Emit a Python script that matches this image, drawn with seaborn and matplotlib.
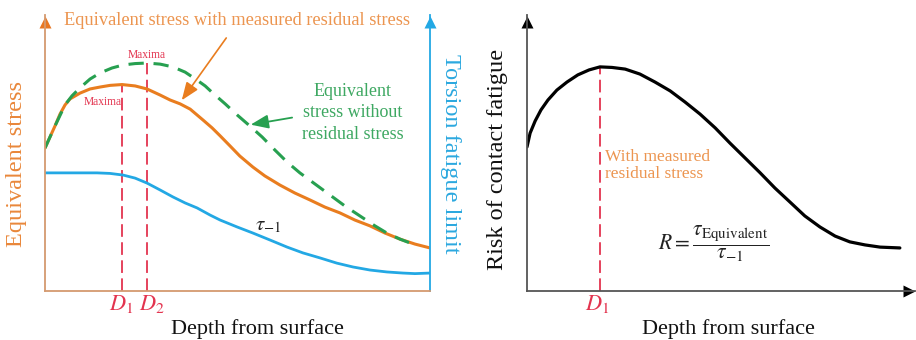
import matplotlib
matplotlib.use("Agg")
import matplotlib.pyplot as plt
import seaborn as sns
import pandas as pd
import numpy as np

# ---- data (depth in arbitrary units 0-10, stress / risk in arbitrary units 0-100) ----
depth_meas = [0.00, 0.13, 0.26, 0.39, 0.52, 0.65, 0.91, 1.17, 1.43, 1.69, 2.00, 2.34,
              2.65, 2.99, 3.25, 3.51, 3.77, 4.10, 4.34, 4.55, 4.81, 5.06, 5.40, 5.71,
              6.10, 6.49, 6.88, 7.27, 7.66, 8.05, 8.44, 8.83, 9.22, 9.61, 10.0]
stress_meas = [51.8, 55.8, 59.8, 64.1, 67.4, 69.6, 71.7, 73.2, 73.9, 74.5, 74.8, 74.3,
               73.2, 71.0, 69.2, 67.8, 65.9, 62.0, 59.1, 56.2, 52.5, 48.9, 44.9, 41.7,
               38.4, 35.5, 33.0, 30.4, 28.3, 25.7, 23.6, 21.0, 18.8, 17.0, 15.6]

depth_nores = [0.00, 0.26, 0.52, 0.70, 0.91, 1.17, 1.43, 1.74, 2.03, 2.34, 2.65, 2.99,
               3.32, 3.64, 3.95, 4.16, 4.36, 4.68, 4.99, 5.32, 5.64, 5.97, 6.29, 6.62,
               7.01, 7.40, 7.79, 8.18, 8.57, 8.88, 9.22, 9.48]
stress_nores = [51.8, 59.8, 67.4, 70.7, 73.6, 76.8, 79.0, 80.8, 81.9, 82.4, 82.6, 82.2,
                81.2, 79.3, 76.4, 74.3, 71.7, 67.8, 63.8, 59.8, 55.8, 51.1, 46.7, 42.8,
                38.8, 34.8, 30.8, 27.2, 23.6, 21.0, 18.8, 17.4]

depth_tau = [0.00, 0.65, 1.35, 1.69, 2.03, 2.34, 2.65, 2.99, 3.32, 3.64, 3.95, 4.29,
             4.55, 4.99, 5.40, 5.84, 6.29, 6.70, 7.14, 7.58, 8.00, 8.44, 8.88, 9.30,
             9.61, 10.0]
tau_limit = [42.8, 42.8, 42.8, 42.6, 42.0, 40.9, 39.1, 36.6, 34.1, 31.9, 30.1, 27.5,
             25.7, 23.2, 21.0, 18.5, 15.9, 13.8, 12.0, 10.1, 8.7, 7.6, 6.9, 6.5,
             6.3, 6.5]

depth_risk = [0.00, 0.08, 0.21, 0.36, 0.54, 0.77, 1.03, 1.31, 1.60, 1.88, 2.19, 2.53,
              2.91, 3.30, 3.69, 4.07, 4.46, 4.85, 5.23, 5.62, 6.01, 6.39, 6.78, 7.16,
              7.55, 7.94, 8.32, 8.71, 9.10, 9.61]
risk = [52.2, 57.2, 61.6, 65.6, 69.2, 72.8, 75.7, 78.3, 80.1, 81.2, 81.0, 80.4,
        78.6, 75.7, 72.5, 68.5, 64.1, 59.1, 53.6, 48.2, 42.8, 37.3, 32.2, 27.2,
        23.2, 19.9, 17.8, 16.7, 15.9, 15.6]

depth_labels = ["$D_1$", "$D_2$"]
xlabel_text = "Depth from surface"

# ---- colours ----
C_ORANGE = "#E97D1F"
C_ORANGE_TXT = "#EC9550"
C_ORANGE_AX = "#D49A70"
C_GREEN = "#27A050"
C_GREEN_TXT = "#3EA862"
C_BLUE = "#23A8E4"
C_RED = "#E3344F"
C_BLACK = "#000000"

sns.set_theme(style="white")
plt.rcParams["font.family"] = ["Liberation Serif", "DejaVu Serif"]
plt.rcParams["mathtext.fontset"] = "stix"
plt.rcParams["lines.solid_joinstyle"] = "round"
plt.rcParams["lines.solid_capstyle"] = "round"

W, H = 916, 340
fig = plt.figure(figsize=(W / 100, H / 100), dpi=100)
fig.patch.set_facecolor("white")

axL = fig.add_axes([45 / W, 49 / H, 385 / W, 276 / H])
axR = fig.add_axes([527 / W, 49 / H, 388 / W, 276 / H])

for ax in (axL, axR):
    ax.set_xlim(0, 10)
    ax.set_ylim(0, 100)
    ax.set_facecolor("white")
    ax.grid(False)

# ---- left panel: equivalent stress and torsion fatigue limit ----
df_meas = pd.DataFrame({"depth": depth_meas, "stress": stress_meas})
df_nores = pd.DataFrame({"depth": depth_nores, "stress": stress_nores})
df_tau = pd.DataFrame({"depth": depth_tau, "stress": tau_limit})

sns.lineplot(data=df_tau, x="depth", y="stress", ax=axL, color=C_BLUE, lw=2.0,
             sort=False, estimator=None)
sns.lineplot(data=df_meas, x="depth", y="stress", ax=axL, color=C_ORANGE, lw=2.2,
             sort=False, estimator=None)
sns.lineplot(data=df_nores, x="depth", y="stress", ax=axL, color=C_GREEN, lw=2.2,
             sort=False, estimator=None)
axL.lines[-1].set_dashes([5, 3.2])

# depth of maximum stress for each curve
i1 = int(np.argmax(stress_meas))
i2 = int(np.argmax(stress_nores))
d_pos = [depth_meas[i1], depth_nores[i2]]
d_top = [stress_meas[i1], stress_nores[i2]]
for xd, yt in zip(d_pos, d_top):
    ln, = axL.plot([xd, xd], [0, yt], color=C_RED, lw=1.3, zorder=1)
    ln.set_dashes([7, 3])

axL.text(d_pos[0] - 0.5, d_top[0] - 6.3, "Maxima", color=C_RED, fontsize=8.3,
         ha="center", va="center")
axL.text(d_pos[1], d_top[1] + 2.9, "Maxima", color=C_RED, fontsize=8.3,
         ha="center", va="center")
axL.text(d_pos[0] - 0.03, -6.9, depth_labels[0], color=C_RED, fontsize=16,
         ha="center", va="baseline", clip_on=False)
axL.text(d_pos[1] + 0.13, -6.9, depth_labels[1], color=C_RED, fontsize=16,
         ha="center", va="baseline", clip_on=False)

axL.text(5.0, 98.0, "Equivalent stress with measured residual stress",
         color=C_ORANGE_TXT, fontsize=13.2, ha="center", va="center", clip_on=False)
axL.annotate("", xy=(3.51, 68.3), xytext=(4.75, 92.5),
             arrowprops=dict(arrowstyle="-|>,head_length=0.9,head_width=0.35",
                             color=C_ORANGE, lw=1.2))

axL.text(8.0, 64.5, "Equivalent\nstress without\nresidual stress", color=C_GREEN_TXT,
         fontsize=13, ha="center", va="center", linespacing=1.35)
axL.annotate("", xy=(5.27, 60.1), xytext=(6.49, 63.0),
             arrowprops=dict(arrowstyle="-|>,head_length=0.9,head_width=0.35",
                             color=C_GREEN, lw=1.3))

axL.text(5.8, 23.8, r"$\tau_{-1}$", color="#222222", fontsize=15,
         ha="center", va="center")

# spines and arrow heads
axL.spines["top"].set_visible(False)
axL.spines["left"].set_color(C_ORANGE_AX)
axL.spines["bottom"].set_color(C_ORANGE_AX)
axL.spines["right"].set_color(C_BLUE)
for s in ("left", "bottom", "right"):
    axL.spines[s].set_linewidth(1.3)
    axL.spines[s].set_visible(True)
axL.plot([0], [0.975], marker="^", ms=9, color="#E87722", transform=axL.transAxes,
         clip_on=False, mec="none")
axL.plot([1], [0.975], marker="^", ms=9, color=C_BLUE, transform=axL.transAxes,
         clip_on=False, mec="none")

# ---- right panel: risk of contact fatigue ----
df_risk = pd.DataFrame({"depth": depth_risk, "risk": risk})
sns.lineplot(data=df_risk, x="depth", y="risk", ax=axR, color=C_BLACK, lw=2.3,
             sort=False, estimator=None)
ir = int(np.argmax(risk))
ln, = axR.plot([depth_risk[ir]] * 2, [0, risk[ir]], color=C_RED, lw=1.3, zorder=1)
ln.set_dashes([7, 3])
axR.text(depth_risk[ir] - 0.08, -6.9, depth_labels[0], color=C_RED, fontsize=16,
         ha="center", va="baseline", clip_on=False)
axR.text(depth_risk[ir] + 0.12, 45.5, "With measured\nresidual stress",
         color=C_ORANGE_TXT, fontsize=12.5, ha="left", va="center", linespacing=1.15)
axR.text(4.8, 17.0, r"$R=\dfrac{\tau_{\mathrm{Equivalent}}}{\tau_{-1}}$",
         color="#222222", fontsize=15.5, ha="center", va="center")

axR.spines["top"].set_visible(False)
axR.spines["right"].set_visible(False)
for s in ("left", "bottom"):
    axR.spines[s].set_color("#555555")
    axR.spines[s].set_linewidth(1.3)
    axR.spines[s].set_visible(True)
axR.plot([0], [0.975], marker="^", ms=9, color=C_BLACK, transform=axR.transAxes,
         clip_on=False, mec="none")
axR.plot([0.985], [0], marker=">", ms=9, color=C_BLACK, transform=axR.transAxes,
         clip_on=False, mec="none")

for ax in (axL, axR):
    ax.set_xticks([])
    ax.set_yticks([])
    ax.set_xlabel("")
    ax.set_ylabel("")

# ---- axis titles ----
fig.text(257 / W, 1 - 329 / H, xlabel_text, fontsize=16, ha="center", va="center",
         color="#111111")
fig.text(728 / W, 1 - 329 / H, xlabel_text, fontsize=16, ha="center", va="center",
         color="#111111")
fig.text(17 / W, 1 - 164 / H, "Equivalent stress", fontsize=17.5, rotation=90,
         ha="center", va="center", color="#E9873A")
fig.text(451 / W, 1 - 154 / H, "Torsion fatigue limit", fontsize=17.5, rotation=270,
         ha="center", va="center", color="#2BA8DF")
fig.text(497 / W, 1 - 159 / H, "Risk of contact fatigue", fontsize=17.5, rotation=90,
         ha="center", va="center", color="#111111")

fig.savefig("out.png", dpi=100, facecolor="white")
